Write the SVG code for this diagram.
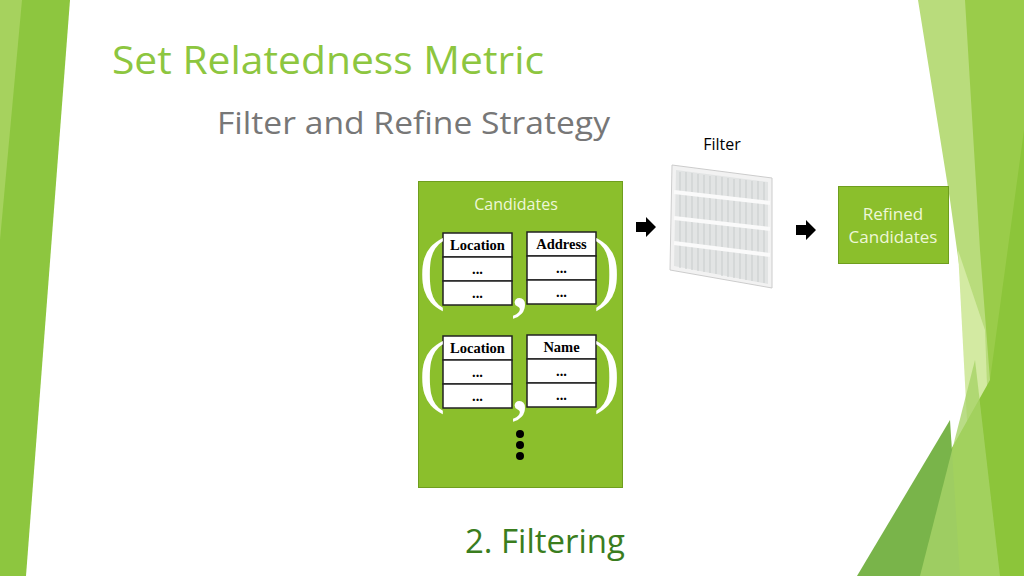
<svg xmlns="http://www.w3.org/2000/svg" width="1024" height="576" viewBox="0 0 1024 576">
<style>
.t{font-family:"Liberation Serif",serif;font-weight:bold;font-size:14.5px;text-anchor:middle}
.cell{fill:#fff;stroke:#222;stroke-width:1.5}
.par{font-family:"Liberation Serif",serif;font-size:80px;fill:#fff;text-anchor:middle}
.s{font-family:"Open Sans","DejaVu Sans",sans-serif}
</style>
<defs>
<g id="arr"><polygon points="0,-5 10,-5 10,-10 20,0 10,10 10,5 0,5" fill="#000"/></g>
</defs>
<rect width="1024" height="576" fill="#fff"/>
<g id="bg">
<polygon points="0,0 70,0 26,576 0,576" fill="#8dc63f"/>
<polygon points="0,0 22,0 0,240" fill="#a6d25e"/>
<polygon points="918,0 1024,0 1024,576 990,576 978,400 950,200" fill="#b9dc7c"/>
<polygon points="965,0 1024,0 1024,576 998,576 990,380 980,250" fill="#9acc4a"/>
<polygon points="958,250 985,330 990,470 968,440" fill="#d3eaa2"/>
<polygon points="1024,130 1024,576 880,576 990,380" fill="#8cc53a"/>
<polygon points="857,576 950,420 960,576" fill="#79b44a"/>
<polygon points="920,576 975,360 1000,576" fill="#a8d368" opacity="0.8"/>
</g>
<text x="112" y="74" class="s" font-size="38" fill="#8dc63f" textLength="432" lengthAdjust="spacingAndGlyphs">Set Relatedness Metric</text>
<text x="217" y="134" class="s" font-size="31" fill="#777" textLength="393" lengthAdjust="spacingAndGlyphs">Filter and Refine Strategy</text>
<text x="722" y="150" class="s" font-size="16" text-anchor="middle" fill="#000">Filter</text>
<g id="filter">
<polygon points="672,165 772,178 772,288 670,270" fill="#f2f2f2" stroke="#ccc"/>
<polygon points="676,170 768,182 768,284 674,266" fill="#e2e4e4"/>
<g stroke="#c8cccc" stroke-width="1">
<path d="M680,172V268M686,172V269M692,173V270M698,174V271M704,175V272M710,176V273M716,176V274M722,177V276M728,178V277M734,179V278M740,179V279M746,180V280M752,181V281M758,181V282M764,182V283"/>
</g>
<g stroke="#fafafa" stroke-width="4">
<line x1="674" y1="192" x2="770" y2="203"/><line x1="674" y1="218" x2="770" y2="229"/><line x1="674" y1="243" x2="770" y2="255"/>
</g>
</g>
<g id="candidates">
<rect x="418.5" y="181.5" width="204" height="306" fill="#8bbf2c" stroke="#6f9e1e"/>
<text x="516" y="210" class="s" font-size="16" text-anchor="middle" fill="#eef7d8">Candidates</text>
<g id="t1">
<rect class="cell" x="443" y="233" width="69" height="24"/><rect class="cell" x="443" y="257" width="69" height="24"/><rect class="cell" x="443" y="281" width="69" height="24"/>
<text class="t" x="477.5" y="250">Location</text><text class="t" x="477.5" y="274">...</text><text class="t" x="477.5" y="298">...</text>
</g>
<g id="t2">
<rect class="cell" x="527" y="232" width="69" height="24"/><rect class="cell" x="527" y="256" width="69" height="24"/><rect class="cell" x="527" y="280" width="69" height="24"/>
<text class="t" x="561.5" y="249">Address</text><text class="t" x="561.5" y="273">...</text><text class="t" x="561.5" y="297">...</text>
</g>
<g id="t3">
<rect class="cell" x="443" y="336" width="69" height="24"/><rect class="cell" x="443" y="360" width="69" height="24"/><rect class="cell" x="443" y="384" width="69" height="24"/>
<text class="t" x="477.5" y="353">Location</text><text class="t" x="477.5" y="377">...</text><text class="t" x="477.5" y="401">...</text>
</g>
<g id="t4">
<rect class="cell" x="527" y="335" width="69" height="24"/><rect class="cell" x="527" y="359" width="69" height="24"/><rect class="cell" x="527" y="383" width="69" height="24"/>
<text class="t" x="561.5" y="352">Name</text><text class="t" x="561.5" y="376">...</text><text class="t" x="561.5" y="400">...</text>
</g>
<text class="par" x="432" y="294">(</text><text class="par" x="607" y="294">)</text>
<text class="par" x="432" y="397">(</text><text class="par" x="607" y="397">)</text>
<text class="par" x="520" y="306" font-size="64">,</text>
<text class="par" x="520" y="409" font-size="64">,</text>
<circle cx="520" cy="434" r="4"/><circle cx="520" cy="445" r="4"/><circle cx="520" cy="456" r="4"/>
</g>
<g id="refined">
<rect x="838.5" y="186.5" width="110" height="77" fill="#8bbf2c" stroke="#6f9e1e"/>
<text x="893" y="220" class="s" font-size="17" text-anchor="middle" fill="#eef7d8">Refined</text>
<text x="893" y="243" class="s" font-size="17" text-anchor="middle" fill="#eef7d8">Candidates</text>
</g>
<g id="connectors">
<use href="#arr" x="636" y="227"/>
<use href="#arr" x="796" y="230"/>
</g>
<text x="545" y="553" class="s" font-size="33" text-anchor="middle" fill="#3a7d1e">2. Filtering</text>
</svg>
